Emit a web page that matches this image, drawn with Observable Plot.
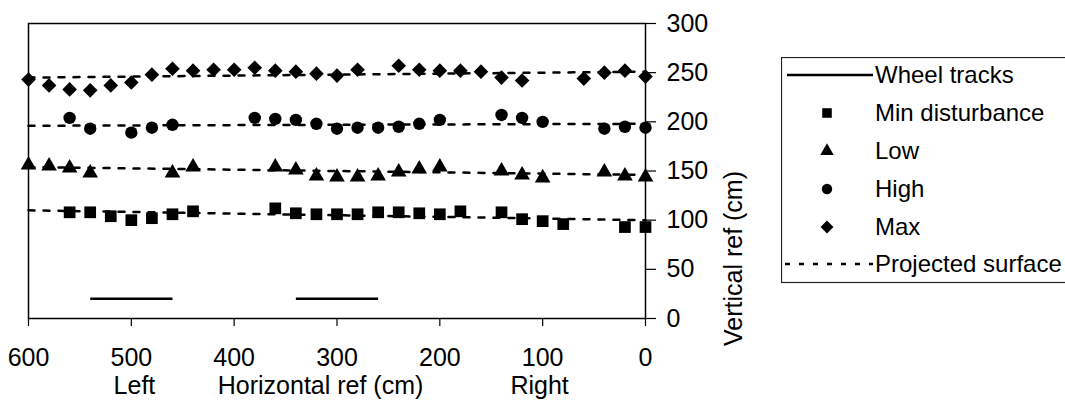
<!DOCTYPE html>
<html>
<head>
<meta charset="utf-8">
<script src="https://cdn.jsdelivr.net/npm/d3@7"></script>
<script src="https://cdn.jsdelivr.net/npm/@observablehq/plot@0.6"></script>
<style>
  html, body { margin: 0; padding: 0; background: #fff; overflow: hidden; }
  #wrap { position: relative; width: 1065px; height: 420px; overflow: hidden; }
  #legend { position: absolute; left: 781px; top: 57px; }
</style>
</head>
<body>
<div id="wrap"></div>
<script>
// ---- data ----
const xTicks = [600, 500, 400, 300, 200, 100, 0];
const yTicks = [0, 50, 100, 150, 200, 250, 300];

const minX = [560,540,520,500,480,460,440,360,340,320,300,280,260,240,220,200,180,140,120,100,80,20,0];
const minY = [108,108,104,100,102,106,109,112,107,106,106,106,108,108,107,106,109,108,101,99,96,93,93];

const lowX = [600,580,560,540,460,440,360,340,320,300,280,260,240,220,200,140,120,100,40,20,0];
const lowY = [156,155,153,148,148,154,154,151,145,144,144,145,149,152,154,150,146,143,149,145,144];

const highX = [560,540,500,480,460,380,360,340,320,300,280,260,240,220,200,140,120,100,40,20,0];
const highY = [204,193,189,194,197,204,203,202,198,193,194,194,195,198,202,207,204,200,193,195,194];

const maxX = [600,580,560,540,520,500,480,460,440,420,400,380,360,340,320,300,280,240,220,200,180,160,140,120,60,40,20,0];
const maxY = [243,237,233,232,237,240,248,254,252,253,253,255,252,251,249,247,253,257,253,252,252,251,245,242,244,250,252,246];

const projX = [600, 0];
const projMin = [110, 100];
const projLow = [154, 146];
const projHigh = [196, 198];
const projMax = [245, 251];

const wheelStart = [540, 340];
const wheelEnd = [460, 260];
const wheelY = [20, 20];

const bottomLabels = ["Left", "Horizontal ref (cm)", "Right"];
const yLabel = "Vertical ref (cm)";

const legendLabels = ["Wheel tracks", "Min disturbance", "Low", "High", "Max", "Projected surface"];

// ---- build tables ----
const pts = (xs, ys) => xs.map((x, i) => ({x, y: ys[i]}));
const minPts = pts(minX, minY), lowPts = pts(lowX, lowY), highPts = pts(highX, highY), maxPts = pts(maxX, maxY);
const projLines = [projMin, projLow, projHigh, projMax].map(v => pts(projX, v));
const wheels = wheelStart.map((s, i) => ({x1: s, x2: wheelEnd[i], y: wheelY[i]}));

const FONT = "'Liberation Sans', Arial, Helvetica, sans-serif";
const dash = "6,9";

const chart = Plot.plot({
  width: 1065, height: 420,
  marginLeft: 28, marginRight: 420, marginTop: 23, marginBottom: 102,
  x: {domain: [600, 0]},
  y: {domain: [0, 300]},
  style: {fontFamily: FONT, fontSize: "25px", color: "black", background: "white"},
  marks: [
    Plot.frame({stroke: "black", strokeWidth: 1.5}),
    Plot.axisX({ticks: xTicks, tickSize: 8, tickPadding: 22, label: null, tickFormat: d => String(d), strokeWidth: 1.2}),
    Plot.axisY({anchor: "right", ticks: yTicks, tickSize: 10, tickPadding: 11, label: null, tickFormat: d => String(d), strokeWidth: 1.2}),
    ...projLines.map(l => Plot.line(l, {x: "x", y: "y", stroke: "black", strokeWidth: 2.5, strokeDasharray: dash})),
    Plot.link(wheels, {x1: "x1", x2: "x2", y1: "y", y2: "y", stroke: "black", strokeWidth: 2.5}),
    Plot.dot(minPts, {x: "x", y: "y", symbol: "square", r: 6.6, fill: "black", stroke: "none"}),
    Plot.dot(lowPts, {x: "x", y: "y", symbol: "triangle", r: 5.8, fill: "black", stroke: "none"}),
    Plot.dot(highPts, {x: "x", y: "y", symbol: "circle", r: 6.2, fill: "black", stroke: "none"}),
    Plot.dot(maxPts, {x: "x", y: "y", symbol: "diamond2", r: 6.6, fill: "black", stroke: "none"}),
    Plot.text(bottomLabels, {x: (d, i) => [497, 316, 103][i], frameAnchor: "bottom", dy: 75, text: d => d, fontSize: 25, fill: "black"}),
    Plot.text([yLabel], {frameAnchor: "right", dx: 88, rotate: -90, text: d => d, fontSize: 25, fill: "black"})
  ]
});
document.getElementById("wrap").appendChild(chart);

// ---- legend ----
const lw = 300, lh = 225;
const leg = d3.select("#wrap").append("svg")
  .attr("id", "legend").attr("width", lw).attr("height", lh + 2)
  .style("font-family", FONT).style("font-size", "24px");
leg.append("rect").attr("x", 0.5).attr("y", 0.5).attr("width", lw + 10).attr("height", lh)
  .attr("fill", "white").attr("stroke", "#222").attr("stroke-width", 1.2);
const rowY = [18, 56, 94, 132, 170, 207];
const symbolTypes = [null, d3.symbolSquare, d3.symbolTriangle, d3.symbolCircle, d3.symbolDiamond2, null];
const symR = [0, 5.4, 5.0, 5.2, 5.8, 0];
legendLabels.forEach((lab, i) => {
  const y = rowY[i];
  if (i === 0) {
    leg.append("line").attr("x1", 6).attr("x2", 92).attr("y1", y).attr("y2", y)
      .attr("stroke", "black").attr("stroke-width", 2.5);
  } else if (i === 5) {
    leg.append("line").attr("x1", 4).attr("x2", 92).attr("y1", y).attr("y2", y)
      .attr("stroke", "black").attr("stroke-width", 2.5).attr("stroke-dasharray", "5,9");
  } else {
    leg.append("path").attr("transform", `translate(46,${y})`)
      .attr("d", d3.symbol(symbolTypes[i], Math.PI * symR[i] * symR[i])())
      .attr("fill", "black");
  }
  leg.append("text").attr("x", 94).attr("y", y).attr("dy", "0.35em").attr("fill", "black").text(lab);
});
</script>
</body>
</html>
